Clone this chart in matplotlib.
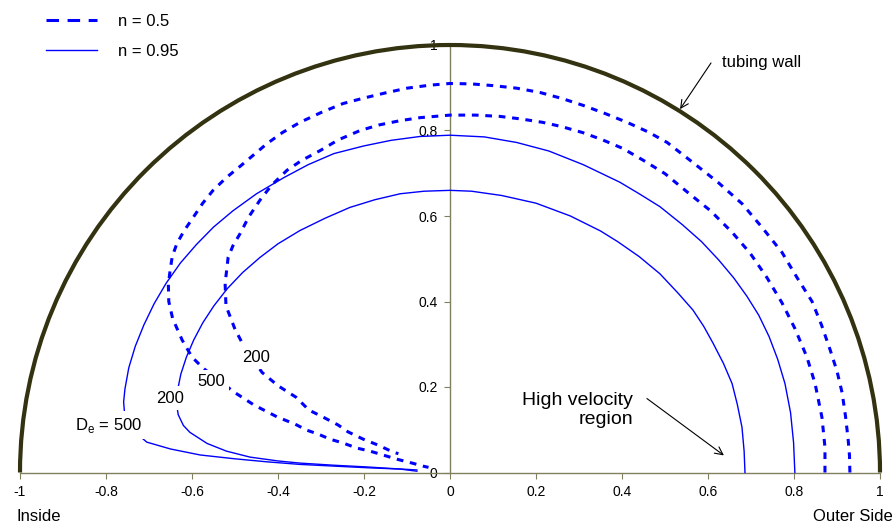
import numpy as np
import matplotlib
matplotlib.use('Agg')
import matplotlib.pyplot as plt
from matplotlib.lines import Line2D
from matplotlib.patches import Arc

plt.rcParams['font.family'] = ['Liberation Sans', 'DejaVu Sans']

# contour for n = 0.95, De = 500 (outer solid)
x_s500 = [0.802, 0.799, 0.792, 0.779, 0.762, 0.742, 0.718, 0.69, 0.66, 0.625, 0.585,
          0.54, 0.488, 0.44, 0.395, 0.31, 0.23, 0.155, 0.08, 0.0,
          -0.07, -0.137, -0.2, -0.27, -0.33, -0.386, -0.45, -0.505, -0.55, -0.59,
          -0.627, -0.66, -0.688, -0.712, -0.732, -0.747, -0.756, -0.759, -0.757,
          -0.745, -0.705, -0.65, -0.581, -0.5, -0.426, -0.35, -0.271, -0.19, -0.116, -0.077]
y_s500 = [0.0, 0.07, 0.14, 0.208, 0.265, 0.318, 0.368, 0.413, 0.455, 0.497, 0.54,
          0.58, 0.622, 0.652, 0.679, 0.72, 0.752, 0.772, 0.785, 0.789,
          0.786, 0.777, 0.764, 0.746, 0.72, 0.69, 0.652, 0.612, 0.574, 0.533,
          0.49, 0.443, 0.395, 0.345, 0.295, 0.245, 0.195, 0.165, 0.14,
          0.105, 0.071, 0.055, 0.041, 0.032, 0.025, 0.019, 0.015, 0.011, 0.008, 0.003]

# contour for n = 0.95, De = 200 (inner solid)
x_s200 = [0.686, 0.684, 0.679, 0.668, 0.656, 0.636, 0.612, 0.59, 0.565, 0.53, 0.488,
          0.44, 0.39, 0.35, 0.28, 0.2, 0.12, 0.05, 0.0,
          -0.06, -0.116, -0.175, -0.233, -0.29, -0.349, -0.4, -0.442, -0.482, -0.518,
          -0.549, -0.575, -0.596, -0.613, -0.626, -0.634, -0.636, -0.632, -0.62, -0.605,
          -0.565, -0.52, -0.465, -0.4, -0.349, -0.27, -0.193, -0.13, -0.077]
y_s200 = [0.0, 0.05, 0.106, 0.16, 0.208, 0.255, 0.302, 0.342, 0.38, 0.42, 0.465,
          0.505, 0.54, 0.565, 0.6, 0.63, 0.648, 0.658, 0.66,
          0.658, 0.652, 0.638, 0.62, 0.595, 0.566, 0.535, 0.503, 0.468, 0.43,
          0.39, 0.35, 0.31, 0.27, 0.23, 0.19, 0.16, 0.135, 0.11, 0.094,
          0.068, 0.05, 0.036, 0.027, 0.022, 0.017, 0.013, 0.009, 0.006]

# contour for n = 0.5, De = 500 (outer dashed)
x_d500 = [0.93, 0.929, 0.926, 0.92, 0.912, 0.9, 0.884, 0.864, 0.842, 0.807, 0.772,
          0.726, 0.679, 0.623, 0.565, 0.505, 0.46, 0.412, 0.36, 0.309, 0.26, 0.209,
          0.155, 0.1, 0.05, 0.0, -0.047, -0.1, -0.15, -0.2, -0.249, -0.3, -0.349,
          -0.39, -0.426, -0.486, -0.52, -0.551, -0.575, -0.597, -0.618, -0.635, -0.646,
          -0.651, -0.655, -0.654, -0.645, -0.623, -0.6, -0.574,
          -0.502, -0.456, -0.402, -0.36, -0.333, -0.307, -0.279, -0.249, -0.216, -0.186,
          -0.156, -0.123, -0.088, -0.063, -0.05]
y_d500 = [0.0, 0.04, 0.076, 0.13, 0.186, 0.237, 0.287, 0.345, 0.4, 0.456, 0.515,
          0.573, 0.629, 0.679, 0.725, 0.772, 0.797, 0.819, 0.84, 0.859, 0.875, 0.889,
          0.899, 0.905, 0.909, 0.91, 0.906, 0.899, 0.888, 0.876, 0.863, 0.842, 0.819,
          0.795, 0.769, 0.718, 0.69, 0.66, 0.63, 0.597, 0.566, 0.536, 0.505,
          0.472, 0.44, 0.4, 0.36, 0.31, 0.27, 0.244,
          0.188, 0.158, 0.13, 0.113, 0.099, 0.09, 0.078, 0.069, 0.057, 0.05,
          0.041, 0.031, 0.022, 0.015, 0.012]

# contour for n = 0.5, De = 200 (inner dashed)
x_d200 = [0.872, 0.872, 0.865, 0.849, 0.83, 0.802, 0.772, 0.737, 0.698, 0.656, 0.605,
          0.553, 0.5, 0.45, 0.402, 0.355, 0.309, 0.26, 0.216, 0.165, 0.116, 0.06, 0.0,
          -0.07, -0.116, -0.165, -0.209, -0.26, -0.302, -0.345, -0.379, -0.415, -0.442,
          -0.468, -0.488, -0.505, -0.516, -0.523, -0.521, -0.5, -0.479, -0.437, -0.4,
          -0.358, -0.328, -0.294, -0.26, -0.237, -0.202, -0.167, -0.133, -0.12]
y_d200 = [0.0, 0.059, 0.129, 0.208, 0.27, 0.337, 0.397, 0.456, 0.513, 0.562, 0.613,
          0.655, 0.699, 0.73, 0.758, 0.778, 0.795, 0.809, 0.819, 0.827, 0.833, 0.836, 0.836,
          0.83, 0.823, 0.813, 0.8, 0.778, 0.753, 0.73, 0.707, 0.672, 0.637,
          0.598, 0.559, 0.53, 0.503, 0.442, 0.39, 0.335, 0.295, 0.234, 0.203,
          0.176, 0.146, 0.129, 0.111, 0.095, 0.078, 0.064, 0.048, 0.044]

xticks = [-1, -0.8, -0.6, -0.4, -0.2, 0, 0.2, 0.4, 0.6, 0.8, 1]
xticklabels = ['-1', '-0.8', '-0.6', '-0.4', '-0.2', '0', '0.2', '0.4', '0.6', '0.8', '1']
yticks = [0, 0.2, 0.4, 0.6, 0.8, 1]
yticklabels = ['0', '0.2', '0.4', '0.6', '0.8', '1']

axcol = '#808060'
wallcol = '#333311'
blue = '#0000ff'

fig = plt.figure(figsize=(8.96, 5.29), dpi=100)
ax = fig.add_axes([20 / 896, 56.5 / 529, 860 / 896, 427.5 / 529])

# tubing wall
wall = Arc((0, 0), 2, 2, theta1=0, theta2=180, color=wallcol, lw=3, zorder=4, clip_on=False)
ax.add_patch(wall)

dash = (0, (2.2, 2.2))
ax.plot(x_d500, y_d500, color=blue, lw=2.2, linestyle=dash, clip_on=False, zorder=3)
ax.plot(x_d200, y_d200, color=blue, lw=2.2, linestyle=dash, clip_on=False, zorder=3)
ax.plot(x_s500, y_s500, color=blue, lw=1.0, clip_on=False, zorder=3)
ax.plot(x_s200, y_s200, color=blue, lw=1.0, clip_on=False, zorder=3)

ax.set_xlim(-1, 1)
ax.set_ylim(0, 1)
ax.spines['left'].set_position(('data', 0))
ax.spines['bottom'].set_position(('data', 0))
ax.spines['top'].set_visible(False)
ax.spines['right'].set_visible(False)
for s in ['left', 'bottom']:
    ax.spines[s].set_color(axcol)
    ax.spines[s].set_linewidth(1.0)
ax.set_xticks(xticks)
ax.set_xticklabels(xticklabels)
ax.set_yticks(yticks)
ax.set_yticklabels(yticklabels)
ax.tick_params(direction='out', length=4, width=0.8, color=axcol,
               labelcolor='black', labelsize=10, pad=5)

# curve labels
bb = dict(boxstyle='square,pad=0.25', fc='white', ec='none')
ax.text(-0.872, 0.111, r'D$_\mathregular{e}$ = 500', fontsize=12, ha='left', va='center', bbox=bb, zorder=5)
ax.text(-0.651, 0.174, '200', fontsize=12, ha='center', va='center', bbox=bb, zorder=5)
ax.text(-0.555, 0.212, '500', fontsize=12, ha='center', va='center', bbox=bb, zorder=5)
ax.text(-0.451, 0.27, '200', fontsize=12, ha='center', va='center', bbox=bb, zorder=5)

# annotations
arrow = dict(arrowstyle='->', color='black', lw=0.8, shrinkA=0, shrinkB=0, mutation_scale=14)
ax.text(0.633, 0.958, 'tubing wall', fontsize=12, ha='left', va='center')
ax.annotate('', xy=(0.535, 0.85), xytext=(0.607, 0.958), arrowprops=arrow)
ax.text(0.426, 0.146, 'High velocity\nregion', fontsize=14, ha='right', va='center',
        multialignment='right', linespacing=1.2)
ax.annotate('', xy=(0.637, 0.04), xytext=(0.458, 0.173), arrowprops=arrow)

ax.text(-1.007, -0.104, 'Inside', fontsize=12, ha='left', va='center')
ax.text(1.03, -0.104, 'Outer Side', fontsize=12, ha='right', va='center')

# legend
handles = [Line2D([], [], color=blue, lw=2.2, linestyle=(0, (4.1, 2.8))),
           Line2D([], [], color=blue, lw=1.0)]
ax.legend(handles, ['n = 0.5', 'n = 0.95'], loc='upper left',
          bbox_to_anchor=(46 / 896, 1 - 14 / 529), bbox_transform=fig.transFigure,
          frameon=False, fontsize=12, handlelength=3.05, handletextpad=1.26,
          labelspacing=0.9, borderpad=0, borderaxespad=0)

fig.savefig('out.png', dpi=100)
